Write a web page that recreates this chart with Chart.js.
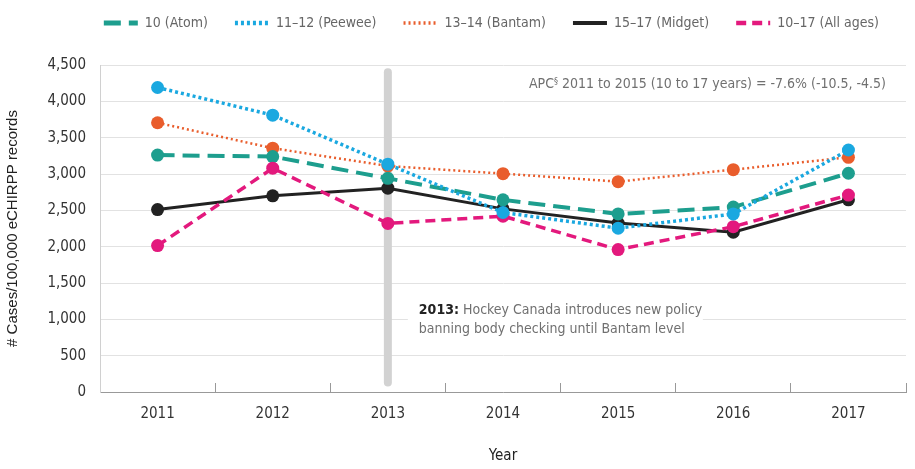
<!DOCTYPE html>
<html>
<head>
<meta charset="utf-8">
<script src="https://cdn.jsdelivr.net/npm/chart.js@4.4.1/dist/chart.umd.min.js"></script>
<style>
    html, body { margin: 0; padding: 0; background: #fff; }
    #wrap { width: 915px; height: 469px; position: relative; }
</style>
</head>
<body>
<div id="wrap"><canvas id="chart"></canvas></div>
<script>
// Data
const years = ['2011', '2012', '2013', '2014', '2015', '2016', '2017'];
const atom = [3260, 3240, 2940, 2645, 2450, 2545, 3010];
const peewee = [4190, 3810, 3135, 2470, 2255, 2450, 3330];
const bantam = [3705, 3355, 3110, 3005, 2895, 3060, 3230];
const midget = [2510, 2700, 2805, 2520, 2325, 2200, 2645];
const allAges = [2015, 3080, 2320, 2420, 1960, 2275, 2710];
const yTicks = [0, 500, 1000, 1500, 2000, 2500, 3000, 3500, 4000, 4500];

const policyYear = '2013';
const policyBar = [130, 4400];   // span of the grey marker, in cases
const policyNoteAt = 1000;       // note is centred on this gridline

const NARROW = '"Liberation Sans Narrow", "DejaVu Sans Condensed", "Roboto", sans-serif';

// Grey vertical marker + policy note + APC note
const notesPlugin = {
    id: 'notes',
    beforeInit(chart) {
        // leave extra room between the legend and the plot
        const fit = chart.legend.fit;
        chart.legend.fit = function () {
            fit.call(this);
            this.height += 25;
        };
    },
    beforeDatasetsDraw(chart) {
        const { ctx, scales: { x, y }, chartArea } = chart;
        const px = x.getPixelForValue(years.indexOf(policyYear));

        ctx.save();
        // grey bar
        ctx.strokeStyle = '#d2d2d2';
        ctx.lineWidth = 8;
        ctx.lineCap = 'round';
        ctx.beginPath();
        ctx.moveTo(px, y.getPixelForValue(policyBar[1]));
        ctx.lineTo(px, y.getPixelForValue(policyBar[0]));
        ctx.stroke();

        // policy note with white box over the gridline
        const ny = y.getPixelForValue(policyNoteAt);
        const tx = px + 31;
        ctx.fillStyle = '#fff';
        ctx.fillRect(px + 20, ny - 22, 295, 44);

        ctx.font = 'bold 14px ' + NARROW;
        ctx.textBaseline = 'middle';
        ctx.textAlign = 'left';
        ctx.fillStyle = '#222';
        const bold = '2013:';
        ctx.fillText(bold, tx, ny - 9);
        const bw = ctx.measureText(bold).width;
        ctx.font = '14px ' + NARROW;
        ctx.fillStyle = '#707070';
        ctx.fillText(' Hockey Canada introduces new policy', tx + bw, ny - 9);
        ctx.fillText('banning body checking until Bantam level', tx, ny + 10);

        // APC note, top right
        const ay = y.getPixelForValue(4235);
        const ax = chartArea.right - 20;
        ctx.textAlign = 'right';
        ctx.font = '14px ' + NARROW;
        const main = ' 2011 to 2015 (10 to 17 years) = -7.6% (-10.5, -4.5)';
        ctx.fillText(main, ax, ay);
        const mw = ctx.measureText(main).width;
        ctx.font = '9px ' + NARROW;
        ctx.fillText('§', ax - mw, ay - 3);
        const sw = ctx.measureText('§').width;
        ctx.font = '14px ' + NARROW;
        ctx.fillText('APC', ax - mw - sw, ay);
        ctx.restore();
    }
};

function series(label, data, color, width, dash, order) {
    return {
        label: label,
        data: data,
        borderColor: color,
        backgroundColor: color,
        borderWidth: width,
        borderDash: dash,
        pointRadius: 6.5,
        pointHoverRadius: 6.5,
        pointBorderWidth: 0,
        pointBackgroundColor: color,
        tension: 0,
        order: order
    };
}

new Chart(document.getElementById('chart'), {
    type: 'line',
    data: {
        labels: years,
        datasets: [
            series('10 (Atom)', atom, '#1d9e8e', 4, [17, 8], 3),
            series('11\u201312 (Peewee)', peewee, '#1aa8e0', 3.5, [3, 3], 1),
            series('13\u201314 (Bantam)', bantam, '#e95d2c', 2.5, [2, 3], 5),
            series('15\u201317 (Midget)', midget, '#222222', 3, [], 4),
            series('10\u201317 (All ages)', allAges, '#e3197d', 3.5, [10, 6], 2)
        ]
    },
    plugins: [notesPlugin],
    options: {
        responsive: true,
        maintainAspectRatio: false,
        animation: false,
        layout: { padding: { top: -11, right: 9, left: 0, bottom: 0 } },
        plugins: {
            legend: {
                position: 'top',
                align: 'end',
                labels: {
                    usePointStyle: true,
                    pointStyleWidth: 34,
                    boxHeight: 14,
                    padding: 27,
                    color: '#666',
                    font: { family: NARROW, size: 14 },
                    generateLabels: (chart) => chart.data.datasets.map((ds, i) => ({
                        text: ds.label,
                        fillStyle: ds.borderColor,
                        strokeStyle: ds.borderColor,
                        lineWidth: ds.borderWidth + 1,
                        lineDash: ds.borderDash,
                        pointStyle: 'line',
                        fontColor: '#666',
                        hidden: false,
                        datasetIndex: i
                    }))
                }
            },
            tooltip: { enabled: false }
        },
        scales: {
            x: {
                offset: true,
                grid: {
                    offset: true,
                    drawOnChartArea: false,
                    drawTicks: true,
                    tickLength: -9,
                    tickColor: '#999'
                },
                border: { color: '#999', width: 1 },
                ticks: {
                    padding: 22,
                    color: '#333',
                    font: { family: NARROW, size: 15 }
                },
                title: {
                    display: true,
                    text: 'Year',
                    color: '#222',
                    font: { family: NARROW, size: 15 },
                    padding: { top: 14 }
                },
                afterFit: (scale) => { scale.height = 77; }
            },
            y: {
                min: 0,
                max: 4500,
                afterBuildTicks: (scale) => { scale.ticks = yTicks.map(v => ({ value: v })); },
                grid: { color: '#e2e2e2', drawTicks: false },
                border: { color: '#d0d0d0' },
                ticks: {
                    padding: 14,
                    color: '#333',
                    font: { family: NARROW, size: 15 },
                    callback: (v) => v.toLocaleString('en-US')
                },
                title: {
                    display: true,
                    text: '# Cases/100,000 eCHIRPP records',
                    color: '#222',
                    font: { family: '"Liberation Sans", Arial, sans-serif', size: 15 },
                    padding: { bottom: 4 }
                },
                afterFit: (scale) => { scale.width = 100; }
            }
        }
    }
});
</script>
</body>
</html>
